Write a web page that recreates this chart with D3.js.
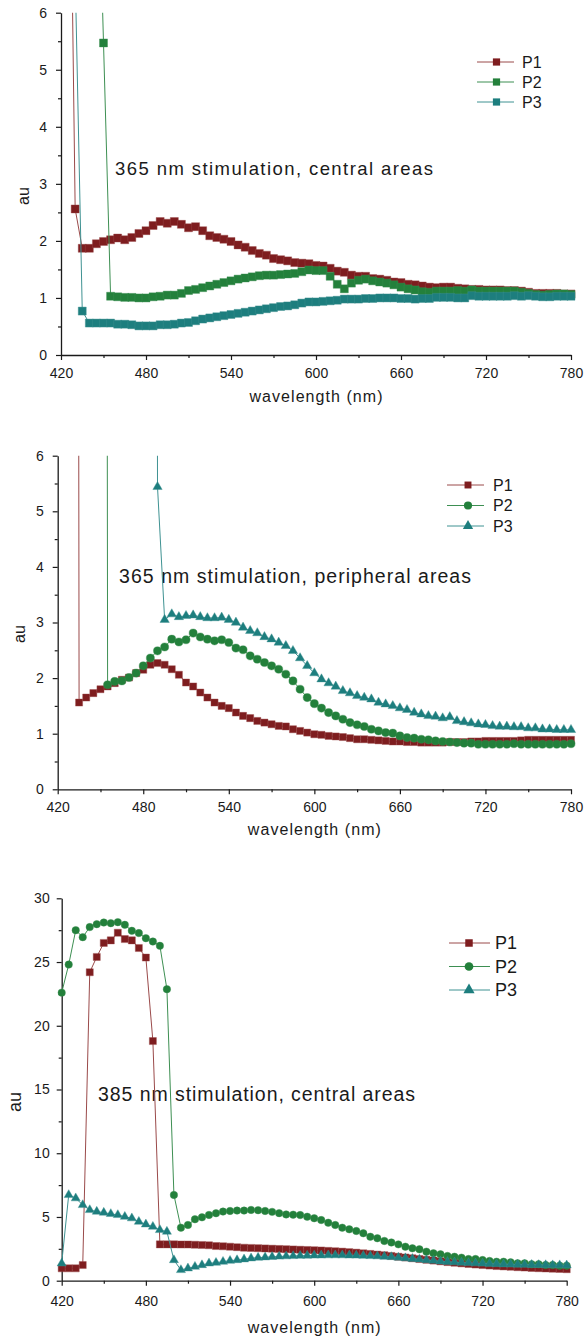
<!DOCTYPE html>
<html><head><meta charset="utf-8">
<script src="https://cdn.jsdelivr.net/npm/d3@7"></script>
<style>
body{margin:0;background:#fff;}
text{font-family:"Liberation Sans",Arial,sans-serif;fill:#1a1a1a;}
</style>
</head><body>
<svg id="chart" width="585" height="1343"></svg>
<script>
// ---------- DATA ----------
const wavelengths = [420,425,430,435,440,445,450,455,460,465,470,475,480,485,490,495,500,505,510,515,520,525,530,535,540,545,550,555,560,565,570,575,580,585,590,595,600,605,610,615,620,625,630,635,640,645,650,655,660,665,670,675,680,685,690,695,700,705,710,715,720,725,730,735,740,745,750,755,760,765,770,775,780];
const seriesNames = ["P1","P2","P3"];
const xTicks = [420,480,540,600,660,720,780];
const xMinorTicks = [450,510,570,630,690,750];
const yTicksSmall = [0,1,2,3,4,5,6];
const yMinorSmall = [0.5,1.5,2.5,3.5,4.5,5.5];
const yTicksLarge = [0,5,10,15,20,25,30];
const yMinorLarge = [2.5,7.5,12.5,17.5,22.5,27.5];
const panelTitles = ["365 nm stimulation, central areas","365 nm stimulation, peripheral areas","385 nm stimulation, central areas"];
const xTitle = "wavelength (nm)";
const yTitle = "au";

// Panel A: 365 nm, central
const a_P1 = [null,12,2.56,1.87,1.87,1.95,1.99,2.02,2.05,2.02,
  2.06,2.13,2.18,2.27,2.34,2.31,2.34,2.29,2.23,2.25,
  2.18,2.09,2.06,2.03,1.99,1.93,1.89,1.83,1.78,1.75,
  1.69,1.67,1.65,1.62,1.61,1.60,1.57,1.56,1.52,1.47,
  1.45,1.40,1.38,1.38,1.34,1.33,1.31,1.28,1.27,1.24,
  1.23,1.21,1.19,1.18,1.19,1.19,1.17,1.16,1.15,1.15,
  1.14,1.14,1.14,1.13,1.13,1.12,1.10,1.08,1.08,1.08,
  1.08,1.07,1.07];
const a_P2 = [null,null,null,null,null,10,5.47,1.03,1.02,1.01,
  1.01,1.00,1.00,1.02,1.03,1.05,1.05,1.08,1.13,1.15,
  1.18,1.21,1.24,1.27,1.30,1.33,1.35,1.37,1.39,1.40,
  1.40,1.41,1.42,1.43,1.46,1.49,1.48,1.48,1.38,1.24,
  1.16,1.26,1.31,1.33,1.30,1.28,1.26,1.23,1.19,1.16,
  1.14,1.11,1.10,1.12,1.12,1.12,1.13,1.12,1.14,1.12,
  1.12,1.12,1.12,1.12,1.12,1.10,1.08,1.06,1.05,1.06,
  1.07,1.07,1.06];
const a_P3 = [null,null,6.7,0.77,0.56,0.56,0.56,0.56,0.54,0.54,
  0.53,0.51,0.51,0.51,0.53,0.53,0.54,0.56,0.57,0.60,
  0.63,0.65,0.67,0.69,0.71,0.73,0.75,0.77,0.79,0.81,
  0.83,0.85,0.86,0.88,0.91,0.93,0.93,0.94,0.95,0.96,
  0.98,0.98,0.98,0.99,0.99,1.00,1.00,1.00,0.99,0.99,
  0.98,0.99,0.99,1.01,1.01,1.01,1.00,1.00,1.04,1.03,
  1.03,1.03,1.03,1.03,1.04,1.03,1.04,1.03,1.02,1.02,
  1.03,1.03,1.03];

// Panel B: 365 nm, peripheral
const b_P1 = [null,null,100,1.56,1.65,1.73,1.80,1.85,1.91,1.97,
  2.01,2.09,2.15,2.24,2.27,2.24,2.16,2.06,1.92,1.85,
  1.74,1.65,1.56,1.50,1.46,1.38,1.32,1.28,1.23,1.20,
  1.17,1.14,1.13,1.08,1.05,1.02,0.99,0.98,0.96,0.95,
  0.94,0.92,0.90,0.90,0.89,0.88,0.87,0.86,0.86,0.85,
  0.85,0.84,0.84,0.84,0.84,0.85,0.85,0.85,0.86,0.86,
  0.87,0.87,0.87,0.87,0.87,0.88,0.89,0.89,0.89,0.89,
  0.89,0.89,0.89];
const b_P2 = [null,null,null,null,null,null,100,1.88,1.94,1.95,
  2.01,2.09,2.22,2.36,2.49,2.56,2.70,2.65,2.69,2.81,
  2.74,2.70,2.67,2.69,2.64,2.54,2.51,2.40,2.34,2.28,
  2.22,2.16,2.07,1.95,1.80,1.65,1.54,1.46,1.38,1.32,
  1.26,1.20,1.16,1.13,1.08,1.05,1.02,1.01,0.96,0.93,
  0.92,0.90,0.89,0.87,0.86,0.85,0.84,0.83,0.83,0.81,
  0.81,0.81,0.81,0.81,0.82,0.81,0.81,0.81,0.81,0.81,
  0.81,0.81,0.82];
const b_P3 = [null,null,null,null,null,null,null,null,null,null,
  null,null,null,100,5.44,3.05,3.15,3.10,3.12,3.13,
  3.10,3.08,3.08,3.09,3.05,3.00,2.91,2.85,2.81,2.74,
  2.70,2.64,2.58,2.49,2.36,2.22,2.09,1.98,1.91,1.85,
  1.77,1.73,1.68,1.65,1.62,1.56,1.53,1.50,1.46,1.43,
  1.38,1.35,1.32,1.31,1.28,1.30,1.23,1.21,1.19,1.17,
  1.16,1.14,1.13,1.13,1.12,1.12,1.10,1.10,1.08,1.08,
  1.07,1.07,1.07];

// Panel C: 385 nm, central
const c_P1 = [0.97,0.97,0.97,1.23,24.2,25.4,26.5,26.7,27.3,26.8,
  26.7,26.1,25.35,18.8,2.85,2.85,2.85,2.84,2.84,2.82,
  2.80,2.78,2.72,2.70,2.67,2.63,2.59,2.57,2.55,2.53,
  2.51,2.49,2.47,2.45,2.43,2.41,2.39,2.37,2.34,2.31,
  2.28,2.24,2.20,2.15,2.10,2.05,2.00,1.94,1.88,1.82,
  1.76,1.70,1.64,1.58,1.52,1.46,1.41,1.36,1.31,1.27,
  1.23,1.19,1.15,1.12,1.09,1.06,1.03,1.00,0.98,0.96,
  0.94,0.92,0.90];
const c_P2 = [22.6,24.8,27.5,26.95,27.74,27.97,28.1,28.05,28.13,27.92,
  27.45,27.27,26.87,26.61,26.27,22.87,6.73,4.16,4.37,4.82,
  4.97,5.16,5.29,5.42,5.47,5.50,5.50,5.55,5.53,5.47,
  5.40,5.30,5.20,5.18,5.15,5.02,4.90,4.76,4.55,4.37,
  4.16,4.03,3.90,3.72,3.45,3.33,3.12,3.00,2.85,2.67,
  2.54,2.46,2.28,2.15,2.07,1.94,1.88,1.81,1.70,1.70,
  1.62,1.55,1.49,1.49,1.44,1.36,1.36,1.29,1.29,1.23,
  1.23,1.18,1.18];
const c_P3 = [1.36,6.73,6.47,5.94,5.55,5.42,5.34,5.24,5.16,5.02,
  4.90,4.63,4.42,4.24,3.98,3.85,1.62,0.84,0.97,1.10,
  1.23,1.36,1.41,1.49,1.57,1.62,1.68,1.76,1.81,1.84,
  1.87,1.90,1.92,1.94,1.96,1.97,1.98,1.99,2.00,2.00,
  2.00,1.99,1.98,1.96,1.94,1.92,1.89,1.86,1.82,1.77,
  1.72,1.67,1.62,1.57,1.52,1.48,1.45,1.42,1.39,1.37,
  1.35,1.33,1.31,1.29,1.28,1.27,1.26,1.25,1.24,1.23,
  1.22,1.22,1.21];

// ---------- LAYOUT / STYLE ----------
const colors = ["#7e1d1f","#23803b","#1d7e7e"];
const lineColors = ["#9a4a4a","#3d8f52","#3f9292"];

const panels = [
  {series:[a_P1,a_P2,a_P3], shapes:["square","square","square"], sizes:[64,64,64],
   yMax:6, yTicks:yTicksSmall, yMinor:yMinorSmall, title:panelTitles[0],
   left:61, right:571, top:12.7, bottom:355, xPad:8, yPad:9, tickFont:14,
   titleX:115, titleY:175, titleW:318, titleFont:18.5,
   xTitleY:402, auX:28.5, auY:196, auFont:16,
   legX0:477, legX1:514, legM:496.5, legT:522, legY:[62,82,102], legFont:16, legSizes:[52,52,52]},
  {series:[b_P1,b_P2,b_P3], shapes:["square","circle","triangle"], sizes:[50,52,38],
   yMax:6, yTicks:yTicksSmall, yMinor:yMinorSmall, title:panelTitles[1],
   left:57.7, right:571, top:455.7, bottom:789.3, xPad:8, yPad:9, tickFont:14,
   titleX:119, titleY:583, titleW:352, titleFont:19.5,
   xTitleY:835, auX:25, auY:634, auFont:16,
   legX0:447, legX1:484, legM:468, legT:493, legY:[485,505.5,526], legFont:16, legSizes:[48,52,46]},
  {series:[c_P1,c_P2,c_P3], shapes:["square","circle","triangle"], sizes:[50,44,36],
   yMax:30, yTicks:yTicksLarge, yMinor:yMinorLarge, title:panelTitles[2],
   left:61.7, right:566.7, top:898.3, bottom:1280.7, xPad:10, yPad:7, tickFont:14,
   titleX:98, titleY:1100.5, titleW:317, titleFont:19.5,
   xTitleY:1333, auX:20.5, auY:1102, auFont:18,
   legX0:449, legX1:490, legM:469, legT:495, legY:[943,966.5,990], legFont:18, legSizes:[56,60,54]}
];

const symbolTypes = {square:d3.symbolSquare, circle:d3.symbolCircle, triangle:d3.symbolTriangle};

const svg = d3.select("#chart");

panels.forEach((p, pi) => {
  const x = d3.scaleLinear().domain([420,780]).range([p.left,p.right]);
  const y = d3.scaleLinear().domain([0,p.yMax]).range([p.bottom,p.top]);
  const g = svg.append("g");

  const clipId = "clip" + pi;
  g.append("clipPath").attr("id", clipId).append("rect")
    .attr("x", p.left - 12).attr("y", p.top)
    .attr("width", p.right - p.left + 24).attr("height", p.bottom - p.top + 12);

  const styleAxis = sel => {
    sel.select(".domain").attr("stroke","#1a1a1a").attr("stroke-width",1.3);
    sel.selectAll(".tick line").attr("stroke","#1a1a1a").attr("stroke-width",1.2);
    sel.attr("font-size", p.tickFont).attr("font-family", '"Liberation Sans",Arial,sans-serif');
    sel.selectAll("text").attr("fill","#1a1a1a");
  };
  g.append("g").attr("transform",`translate(0,${p.bottom})`)
    .call(d3.axisBottom(x).tickValues(xTicks).tickSize(5).tickSizeOuter(0).tickPadding(p.xPad).tickFormat(d3.format("d")))
    .call(styleAxis);
  g.append("g").attr("transform",`translate(0,${p.bottom})`)
    .call(d3.axisBottom(x).tickValues(xMinorTicks).tickSize(3).tickFormat(""))
    .call(styleAxis).call(s => s.select(".domain").remove());
  g.append("g").attr("transform",`translate(${p.left},0)`)
    .call(d3.axisLeft(y).tickValues(p.yTicks).tickSize(5).tickSizeOuter(0).tickPadding(p.yPad).tickFormat(d3.format("d")))
    .call(styleAxis);
  g.append("g").attr("transform",`translate(${p.left},0)`)
    .call(d3.axisLeft(y).tickValues(p.yMinor).tickSize(3).tickFormat(""))
    .call(styleAxis).call(s => s.select(".domain").remove());

  g.append("text").attr("x",(p.left+p.right)/2).attr("y",p.xTitleY)
    .attr("text-anchor","middle").attr("font-size",16)
    .attr("textLength",133).attr("lengthAdjust","spacing").text(xTitle);
  g.append("text").attr("transform",`translate(${p.auX},${p.auY}) rotate(-90)`)
    .attr("text-anchor","middle").attr("font-size",p.auFont).text(yTitle);

  g.append("text").attr("x",p.titleX).attr("y",p.titleY)
    .attr("font-size",p.titleFont).attr("textLength",p.titleW).attr("lengthAdjust","spacing")
    .text(p.title);

  const dg = g.append("g").attr("clip-path",`url(#${clipId})`);
  p.series.forEach((vals, si) => {
    const pts = wavelengths.map((w,i) => [w, vals[i]]);
    const line = d3.line().defined(d => d[1] != null).x(d => x(d[0])).y(d => y(d[1]));
    dg.append("path").datum(pts).attr("d", line)
      .attr("fill","none").attr("stroke", lineColors[si]).attr("stroke-width",1);
    const sym = d3.symbol().type(symbolTypes[p.shapes[si]]).size(p.sizes[si]);
    dg.selectAll(null).data(pts.filter(d => d[1] != null)).enter().append("path")
      .attr("d", sym)
      .attr("transform", d => `translate(${x(d[0])},${y(d[1])})`)
      .attr("fill", colors[si])
      .attr("stroke", lineColors[si]).attr("stroke-opacity",0.5).attr("stroke-width",0.8);
  });

  seriesNames.forEach((name, si) => {
    const ly = p.legY[si];
    g.append("line").attr("x1",p.legX0).attr("x2",p.legX1).attr("y1",ly).attr("y2",ly)
      .attr("stroke", lineColors[si]).attr("stroke-width",1);
    g.append("path").attr("d", d3.symbol().type(symbolTypes[p.shapes[si]]).size(p.legSizes[si]))
      .attr("transform",`translate(${p.legM},${ly})`).attr("fill",colors[si]);
    g.append("text").attr("x",p.legT).attr("y",ly).attr("dy","0.36em")
      .attr("font-size",p.legFont).text(name);
  });
});
</script>
</body></html>
